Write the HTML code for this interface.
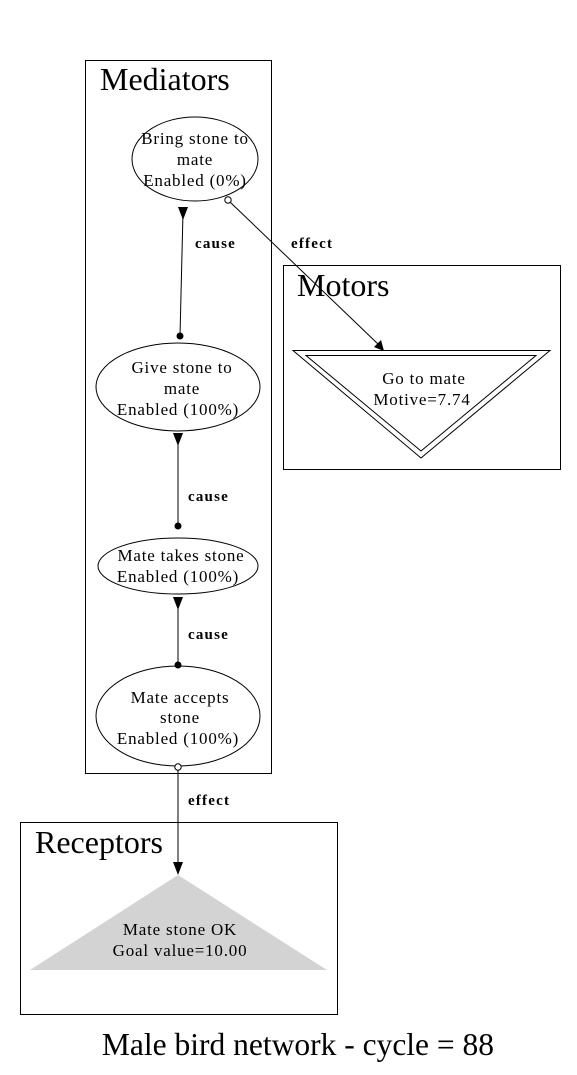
<!DOCTYPE html>
<html><head><meta charset="utf-8"><style>html,body{margin:0;padding:0;background:#fff}svg{display:block}</style></head>
<body>
<svg width="577" height="1075" viewBox="0 0 577 1075" xmlns="http://www.w3.org/2000/svg" font-family="'Liberation Serif',serif">
<rect width="577" height="1075" fill="#fff"/>
<g fill="none" stroke="#000" stroke-width="1">
<rect x="85.5" y="60.5" width="186" height="713"/>
<rect x="283.5" y="265.5" width="277" height="204"/>
<rect x="20.5" y="822.5" width="317" height="192"/>
<ellipse cx="195" cy="159" rx="63" ry="42"/>
<ellipse cx="178" cy="387" rx="82" ry="44"/>
<ellipse cx="178" cy="566" rx="80" ry="28"/>
<ellipse cx="178" cy="716" rx="82" ry="50"/>
<polygon points="293,350.5 550,350.5 421,458"/>
<polygon points="306,355.5 536,355.5 421,451"/>
<line x1="183" y1="212" x2="180" y2="336"/>
<line x1="178" y1="440" x2="178" y2="526"/>
<line x1="178" y1="603" x2="178" y2="665"/>
<line x1="178" y1="770" x2="178" y2="866"/>
<line x1="230" y1="202" x2="378" y2="344"/>
</g>
<polygon points="30,970 327,970 178,875" fill="#d3d3d3"/>
<g fill="#000">
<polygon points="178,207 188,207 183,220"/>
<polygon points="173,433 183,433 178,446"/>
<polygon points="173,597 183,597 178,610"/>
<polygon points="173,862 183,862 178,875"/>
<polygon points="374,347 381,340 384,351"/>
<circle cx="180" cy="336" r="3.5"/>
<circle cx="178" cy="526" r="3.5"/>
<circle cx="178" cy="665" r="3.5"/>
</g>
<circle cx="228" cy="200" r="3.2" fill="#fff" stroke="#000"/>
<circle cx="178" cy="767" r="3.2" fill="#fff" stroke="#000"/>
<g font-size="32">
<text x="100" y="90">Mediators</text>
<text x="297" y="296">Motors</text>
<text x="35" y="853">Receptors</text>
</g>
<text x="298" y="1055" font-size="31.5" text-anchor="middle">Male bird network - cycle = 88</text>
<g font-size="17" letter-spacing="0.8" text-anchor="middle">
<text x="195" y="144">Bring stone to</text>
<text x="195" y="165">mate</text>
<text x="195" y="186">Enabled (0%)</text>
<text x="182" y="373">Give stone to</text>
<text x="182" y="394">mate</text>
<text x="178" y="415">Enabled (100%)</text>
<text x="181" y="561">Mate takes stone</text>
<text x="178" y="582">Enabled (100%)</text>
<text x="180" y="703">Mate accepts</text>
<text x="180" y="723">stone</text>
<text x="178" y="744">Enabled (100%)</text>
<text x="424" y="384">Go to mate</text>
<text x="422" y="405">Motive=7.74</text>
<text x="180" y="935">Mate stone OK</text>
<text x="180" y="956">Goal value=10.00</text>
</g>
<g font-size="15" font-weight="bold" letter-spacing="1.2">
<text x="195" y="248">cause</text>
<text x="291" y="248">effect</text>
<text x="188" y="501">cause</text>
<text x="188" y="639">cause</text>
<text x="188" y="805">effect</text>
</g>
</svg>
</body></html>
